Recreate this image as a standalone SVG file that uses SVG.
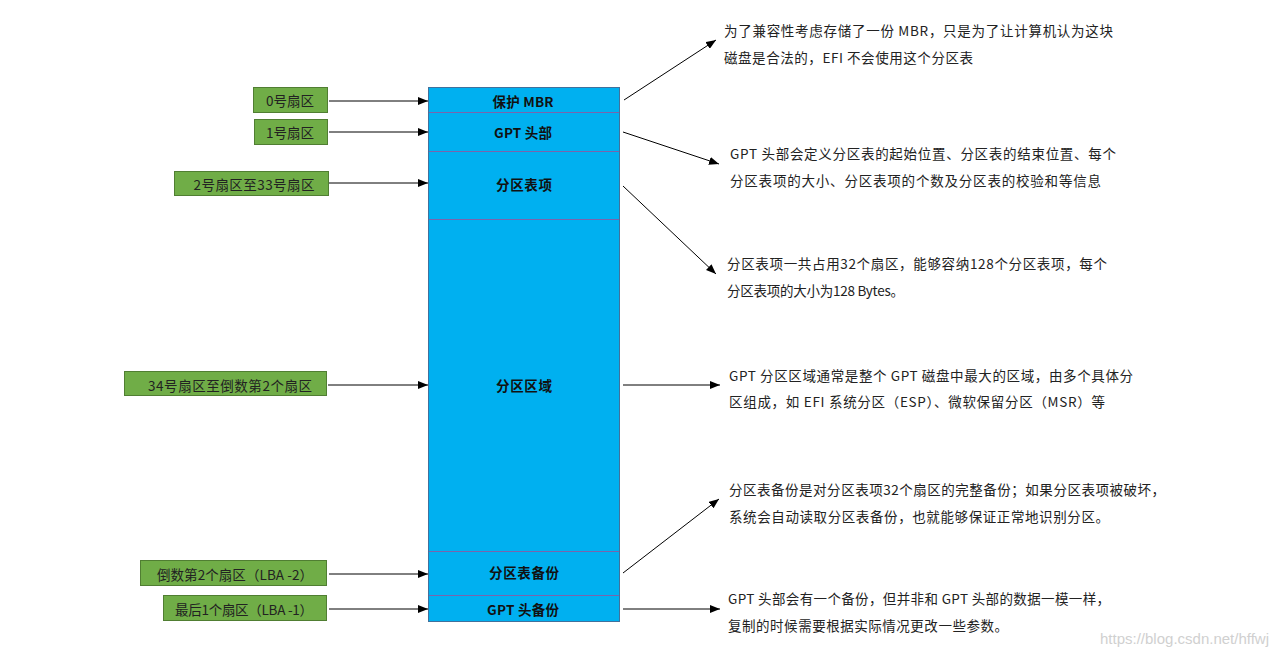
<svg xmlns="http://www.w3.org/2000/svg" width="1287" height="657" viewBox="0 0 1287 657">
<defs>
<marker id="ah" viewBox="0 0 10 8" refX="10" refY="4" markerWidth="10" markerHeight="8" markerUnits="userSpaceOnUse" orient="auto">
<path d="M0,0 L10,4 L0,8 Z" fill="#000"/>
</marker>
<style>
.sec{fill:#00B0F0;stroke:none}
.div{stroke:#7A64AC;stroke-width:1}
.outer{fill:none;stroke:#41719C;stroke-width:1}
.lbl{fill:#70AD47;stroke:#507E32;stroke-width:1}
.lt{font-family:"Noto Sans CJK SC","Noto Sans",sans-serif;font-size:13.5px;fill:#222;text-anchor:middle;dominant-baseline:central}
.ct{font-family:"Noto Sans CJK SC","Noto Sans",sans-serif;font-size:13.5px;font-weight:bold;fill:#111;text-anchor:middle;dominant-baseline:central}
.rt{font-family:"Noto Sans CJK SC","Noto Sans",sans-serif;font-size:13.5px;fill:#222}
.cn{stroke:#000;stroke-width:1;fill:none;marker-end:url(#ah)}
.wm{font-family:"Liberation Sans","DejaVu Sans",sans-serif;font-size:15px;fill:#D0D0D0}
</style>
</defs>
<rect width="1287" height="657" fill="#fff"/>

<g id="column">
<rect class="sec" x="428.5" y="87.5" width="191" height="534"/>
<line class="div" x1="429" y1="112.5" x2="619" y2="112.5"/>
<line class="div" x1="429" y1="151.5" x2="619" y2="151.5"/>
<line class="div" x1="429" y1="219.5" x2="619" y2="219.5"/>
<line class="div" x1="429" y1="551.5" x2="619" y2="551.5"/>
<line class="div" x1="429" y1="595.5" x2="619" y2="595.5"/>
<rect class="outer" x="428.5" y="87.5" width="191" height="534"/>
</g>
<g id="sec-mbr"><text class="ct" x="523" y="100.5" textLength="61">保护 MBR</text></g>
<g id="sec-gpthdr"><text class="ct" x="523" y="131.5" textLength="58">GPT 头部</text></g>
<g id="sec-ptable"><text class="ct" x="524" y="183.5" textLength="56">分区表项</text></g>
<g id="sec-parea"><text class="ct" x="524" y="384.5" textLength="56">分区区域</text></g>
<g id="sec-ptbak"><text class="ct" x="524" y="571.5" textLength="70">分区表备份</text></g>
<g id="sec-hdrbak"><text class="ct" x="523" y="608.5" textLength="72">GPT 头备份</text></g>

<g id="lbl0"><rect class="lbl" x="253.5" y="87.5" width="74" height="25"/><text class="lt" x="290" y="100" textLength="48">0号扇区</text></g>
<g id="lbl1"><rect class="lbl" x="254.5" y="119.5" width="73" height="25"/><text class="lt" x="290" y="132" textLength="48">1号扇区</text></g>
<g id="lbl2"><rect class="lbl" x="174.5" y="171.5" width="154" height="24"/><text class="lt" x="254" y="183.5" textLength="121">2号扇区至33号扇区</text></g>
<g id="lbl34"><rect class="lbl" x="124.5" y="371.5" width="202" height="24"/><text class="lt" x="230" y="384.5" textLength="164">34号扇区至倒数第2个扇区</text></g>
<g id="lblm2"><rect class="lbl" x="140.5" y="560.5" width="186" height="25"/><text class="lt" x="235" y="573.5" textLength="156">倒数第2个扇区（LBA -2）</text></g>
<g id="lblm1"><rect class="lbl" x="163.5" y="595.5" width="163" height="25"/><text class="lt" x="244" y="608.5" textLength="138">最后1个扇区（LBA -1）</text></g>

<g id="connectors">
<line class="cn" x1="329" y1="101" x2="428" y2="101"/>
<line class="cn" x1="329" y1="132" x2="428" y2="132"/>
<line class="cn" x1="329" y1="183" x2="428" y2="183"/>
<line class="cn" x1="328" y1="385" x2="428" y2="385"/>
<line class="cn" x1="329" y1="574" x2="428" y2="574"/>
<line class="cn" x1="329" y1="609" x2="428" y2="609"/>
<line class="cn" x1="624" y1="100" x2="716" y2="40"/>
<line class="cn" x1="623" y1="132" x2="719" y2="164"/>
<line class="cn" x1="623" y1="186" x2="716" y2="274"/>
<line class="cn" x1="623" y1="385" x2="720" y2="385"/>
<line class="cn" x1="623" y1="573" x2="719" y2="499"/>
<line class="cn" x1="623" y1="609" x2="720" y2="609"/>
</g>

<g id="note1">
<text class="rt" x="724" y="36" textLength="389">为了兼容性考虑存储了一份 MBR，只是为了让计算机认为这块</text>
<text class="rt" x="724" y="63" textLength="249">磁盘是合法的，EFI 不会使用这个分区表</text>
</g>
<g id="note2">
<text class="rt" x="730" y="159" textLength="386">GPT 头部会定义分区表的起始位置、分区表的结束位置、每个</text>
<text class="rt" x="730" y="186" textLength="371">分区表项的大小、分区表项的个数及分区表的校验和等信息</text>
</g>
<g id="note3">
<text class="rt" x="727" y="269" textLength="380">分区表项一共占用32个扇区，能够容纳128个分区表项，每个</text>
<text class="rt" x="727" y="296" textLength="177">分区表项的大小为128 Bytes。</text>
</g>
<g id="note4">
<text class="rt" x="729" y="381" textLength="404">GPT 分区区域通常是整个 GPT 磁盘中最大的区域，由多个具体分</text>
<text class="rt" x="729" y="407" textLength="376">区组成，如 EFI 系统分区（ESP）、微软保留分区（MSR）等</text>
</g>
<g id="note5">
<text class="rt" x="729" y="495" textLength="436">分区表备份是对分区表项32个扇区的完整备份；如果分区表项被破坏，</text>
<text class="rt" x="729" y="522" textLength="380">系统会自动读取分区表备份，也就能够保证正常地识别分区。</text>
</g>
<g id="note6">
<text class="rt" x="728" y="604" textLength="382">GPT 头部会有一个备份，但并非和 GPT 头部的数据一模一样，</text>
<text class="rt" x="728" y="631" textLength="280">复制的时候需要根据实际情况更改一些参数。</text>
</g>
<text class="wm" x="1100" y="644">https://blog.csdn.net/hffwj</text>
</svg>
